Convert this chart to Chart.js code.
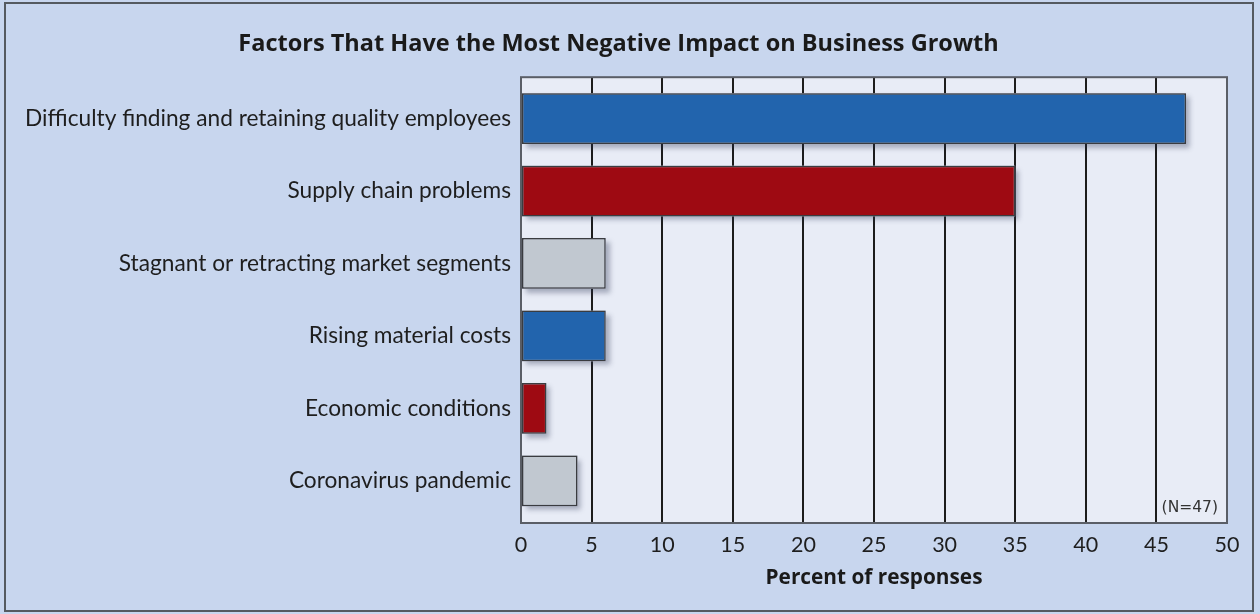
<!DOCTYPE html>
<html>
<head>
<meta charset="utf-8">
<script src="https://cdn.jsdelivr.net/npm/chart.js@4.4.1/dist/chart.umd.min.js"></script>
<style>
  html, body { margin: 0; padding: 0; background: #c8d6ee; }
  #wrap { width: 1260px; height: 614px; }
</style>
</head>
<body>
<div id="wrap"><canvas id="chart" width="1260" height="614"></canvas></div>
<script>
// ---- data ----
const categories = [
    'Difficulty finding and retaining quality employees',
    'Supply chain problems',
    'Stagnant or retracting market segments',
    'Rising material costs',
    'Economic conditions',
    'Coronavirus pandemic'
];
const percents = [47.1, 35, 6, 6, 1.8, 4];
const xTicks = [0, 5, 10, 15, 20, 25, 30, 35, 40, 45, 50];
const chartTitle = 'Factors That Have the Most Negative Impact on Business Growth';
const xTitle = 'Percent of responses';
const sampleNote = '(N=47)';

// bar colours cycle blue / red / grey
const barColors = ['#2264ad', '#9e0a12', '#c1c8d0', '#2264ad', '#9e0a12', '#c1c8d0'];

Chart.defaults.font.family = 'Lato';
Chart.defaults.color = '#1e1e1e';

// background panel, plot frame and bar shadows
const framePlugin = {
    id: 'frame',
    beforeDraw(chart) {
        const { ctx, chartArea: a, width, height } = chart;
        ctx.save();
        ctx.fillStyle = '#c8d6ee';
        ctx.fillRect(0, 0, width, height);
        ctx.strokeStyle = '#555a60';
        ctx.lineWidth = 2;
        ctx.strokeRect(5, 3, width - 12, height - 6);
        ctx.fillStyle = '#e8ecf6';
        ctx.fillRect(a.left, a.top, a.right - a.left, a.bottom - a.top);
        ctx.restore();
    },
    beforeDatasetsDraw(chart) {
        const { ctx, chartArea: a } = chart;
        ctx.save();
        ctx.strokeStyle = '#5a5e66';
        ctx.lineWidth = 2;
        ctx.strokeRect(a.left, a.top, a.right - a.left, a.bottom - a.top);
        // soft drop shadow under each bar
        ctx.shadowColor = 'rgba(40, 50, 80, 0.35)';
        ctx.shadowBlur = 5;
        ctx.shadowOffsetX = 4;
        ctx.shadowOffsetY = 4;
        ctx.fillStyle = '#b0b6c4';
        chart.getDatasetMeta(0).data.forEach(bar => {
            const p = bar.getProps(['x', 'y', 'base', 'height'], true);
            ctx.fillRect(p.base, p.y - p.height / 2, p.x - p.base, p.height);
        });
        ctx.restore();
    },
    afterDraw(chart) {
        const { ctx, chartArea: a } = chart;
        ctx.save();
        ctx.font = '15.5px "DejaVu Sans"';
        ctx.fillStyle = '#333';
        ctx.textAlign = 'right';
        ctx.textBaseline = 'alphabetic';
        ctx.fillText(sampleNote, a.right - 9, a.bottom - 11);
        ctx.restore();
    }
};

new Chart(document.getElementById('chart'), {
    type: 'bar',
    data: {
        datasets: [{
            data: percents.map((v, i) => ({ x: v, y: i })),
            backgroundColor: barColors,
            borderColor: '#3a3c40',
            borderWidth: 1.5,
            borderSkipped: false,
            barPercentage: 0.7,
            categoryPercentage: 1
        }]
    },
    options: {
        indexAxis: 'y',
        responsive: false,
        animation: false,
        layout: { padding: { left: 10, right: 33, top: 0, bottom: 19 } },
        plugins: {
            legend: { display: false },
            tooltip: { enabled: false },
            title: {
                display: true,
                text: chartTitle,
                color: '#1a1a1a',
                font: { family: 'Open Sans', size: 23.5, weight: 'bold' },
                padding: { top: 30, bottom: 19 }
            }
        },
        scales: {
            x: {
                type: 'linear',
                min: 0,
                max: 50,
                afterBuildTicks: s => { s.ticks = xTicks.map(v => ({ value: v })); },
                afterFit: s => { s.height = 72; },
                grid: {
                    drawTicks: false,
                    lineWidth: 2,
                    color: c => (c.tick && (c.tick.value === 0 || c.tick.value === 50)) ? 'rgba(0,0,0,0)' : '#1c1c1c'
                },
                border: { display: false },
                ticks: { font: { size: 21.5 }, color: '#1e1e1e', padding: 9 },
                title: {
                    display: true,
                    text: xTitle,
                    color: '#1a1a1a',
                    font: { family: 'Open Sans', size: 20.8, weight: 'bold' },
                    padding: { top: 0, bottom: 4 }
                }
            },
            y: {
                type: 'linear',
                offset: false,
                reverse: true,
                min: -0.57,
                max: 5.58,
                afterBuildTicks: s => { s.ticks = categories.map((c, i) => ({ value: i })); },
                afterFit: s => { s.width = 511; },
                grid: { display: false, drawTicks: false },
                border: { display: false },
                ticks: {
                    font: { size: 22.7 },
                    color: '#1e1e1e',
                    padding: 10,
                    callback: v => categories[v]
                }
            }
        }
    },
    plugins: [framePlugin]
});
</script>
</body>
</html>
